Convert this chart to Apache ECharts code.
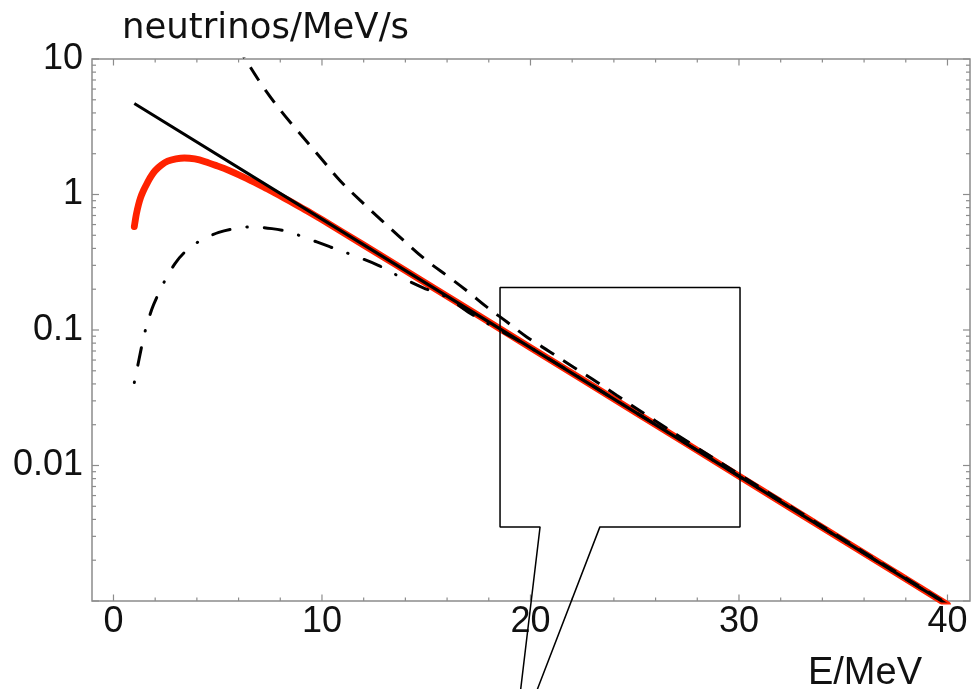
<!DOCTYPE html>
<html>
<head>
<meta charset="utf-8">
<script src="https://cdn.jsdelivr.net/npm/echarts@6/dist/echarts.min.js"></script>
<style>
html,body{margin:0;padding:0;background:#fff;}
#chart{width:973px;height:689px;}
</style>
</head>
<body>
<div id="chart"></div>
<script>
// ---- data ----
const xMin = -1.03, xMax = 41.08;
const yMin = 0.001, yMax = 10;

const xLabelValues = [0, 10, 20, 30, 40];
const xMajorTicks = [0, 10, 20, 30, 40];
const xMinorTicks = [2, 4, 6, 8, 12, 14, 16, 18, 22, 24, 26, 28, 32, 34, 36, 38];

const yLabelValues = [10, 1, 0.1, 0.01];
const yLabelTexts = ['10', '1', '0.1', '0.01'];
const yMajorTicks = [0.001, 0.01, 0.1, 1, 10];
const yMinorTicks = [0.002, 0.003, 0.004, 0.005, 0.006, 0.007, 0.008, 0.009,
                     0.02, 0.03, 0.04, 0.05, 0.06, 0.07, 0.08, 0.09,
                     0.2, 0.3, 0.4, 0.5, 0.6, 0.7, 0.8, 0.9,
                     2, 3, 4, 5, 6, 7, 8, 9];

// solid black: pure exponential
const solidE = [1, 10, 20, 30, 40];
const solidV = [4.70, 0.658, 0.0741, 0.00835, 0.00094];

// thick red curve
const redE = [1.0, 1.05, 1.1, 1.2, 1.3, 1.45, 1.6, 1.8, 2.0, 2.3, 2.6, 3.0, 3.4, 3.9, 4.4, 5.0, 5.5, 6.0, 6.6, 7.2, 7.7, 8.2, 8.7, 9.3, 10, 12, 15, 20, 25, 30, 35, 40];
const redV = [0.58, 0.65, 0.72, 0.84, 0.95, 1.08, 1.20, 1.36, 1.50, 1.65, 1.76, 1.83, 1.86, 1.83, 1.748, 1.62, 1.514, 1.399, 1.262, 1.135, 1.034, 0.94, 0.852, 0.755, 0.652, 0.424, 0.221, 0.0741, 0.0249, 0.00835, 0.0028, 0.00094];

// dashed curve
const dashE = [5.9, 6.32, 7.18, 8.07, 8.94, 9.9, 10.86, 11.82, 12.86, 13.9, 15.0, 16.1, 17.0, 17.9, 18.86, 19.82, 20.94, 22.05, 23.18, 24.13, 26, 28, 30, 33, 36, 40];
const dashV = [12.9, 10.0, 6.22, 4.07, 2.82, 1.89, 1.27, 0.908, 0.645, 0.46, 0.327, 0.245, 0.192, 0.148, 0.115, 0.0889, 0.0689, 0.0534, 0.0414, 0.033, 0.0213, 0.0135, 0.00862, 0.00444, 0.00229, 0.000952];

// dash-dot curve
const ddE = [1.0, 1.2, 1.5, 1.83, 2.15, 2.47, 2.95, 3.43, 4.15, 5.05, 5.83, 6.6, 7.6, 8.4, 9.1, 10.4, 11.5, 12.7, 13.74, 14.86, 15.98, 17.1, 18.5, 20, 25, 30, 35, 40];
const ddV = [0.041, 0.058, 0.0955, 0.141, 0.184, 0.232, 0.309, 0.377, 0.455, 0.525, 0.561, 0.577, 0.56, 0.53, 0.486, 0.41, 0.356, 0.30, 0.247, 0.205, 0.175, 0.133, 0.100, 0.0741, 0.0249, 0.00835, 0.0028, 0.00094];

// zoom box with callout (data coordinates)
const boxE = [19.53, 20.46, 18.54, 18.54, 30.05, 30.05, 23.33, 20.33];
const boxV = [0.000223, 0.003523, 0.003523, 0.206, 0.206, 0.003523, 0.003523, 0.000223];

// ---- chart ----
const zip = (a, b) => a.map((x, i) => [x, b[i]]);
const tickColor = '#8c8c8c';
const labelFont = 'Liberation Sans, Arial, Helvetica, sans-serif';

const chart = echarts.init(document.getElementById('chart'), null, {renderer: 'canvas'});

function xTickRender(params, api) {
  const e = api.value(0), len = api.value(2);
  const pb = api.coord([e, yMin]);
  const pt = api.coord([e, yMax]);
  return {
    type: 'group',
    children: [
      {type: 'line', shape: {x1: pb[0], y1: pb[1], x2: pb[0], y2: pb[1] - len}, style: {stroke: tickColor, lineWidth: 1.2}},
      {type: 'line', shape: {x1: pt[0], y1: pt[1], x2: pt[0], y2: pt[1] + len}, style: {stroke: tickColor, lineWidth: 1.2}}
    ]
  };
}
function yTickRender(params, api) {
  const v = api.value(1), len = api.value(2);
  const pl = api.coord([xMin, v]);
  const pr = api.coord([xMax, v]);
  return {
    type: 'group',
    children: [
      {type: 'line', shape: {x1: pl[0], y1: pl[1], x2: pl[0] + len, y2: pl[1]}, style: {stroke: tickColor, lineWidth: 1.2}},
      {type: 'line', shape: {x1: pr[0], y1: pr[1], x2: pr[0] - len, y2: pr[1]}, style: {stroke: tickColor, lineWidth: 1.2}}
    ]
  };
}

const option = {
  animation: false,
  backgroundColor: '#fff',
  title: [
    {text: 'neutrinos/MeV/s', left: 122, top: 11, padding: 0,
     textStyle: {fontFamily: 'DejaVu Sans', fontSize: 35.5, fontWeight: 'normal', color: '#111'}},
    {text: 'E/MeV', right: 51, top: 655, padding: 0,
     textStyle: {fontFamily: labelFont, fontSize: 38, fontWeight: 'normal', color: '#111'}}
  ],
  grid: {left: 92, right: 3, top: 59, bottom: 88, show: true, borderColor: tickColor, borderWidth: 1.5, backgroundColor: '#fff'},
  xAxis: {
    type: 'value', min: xMin, max: xMax,
    axisLine: {show: false}, axisTick: {show: false}, splitLine: {show: false},
    axisLabel: {customValues: xLabelValues, margin: 3, color: '#111', fontSize: 36, fontFamily: labelFont}
  },
  yAxis: {
    type: 'log', logBase: 10, min: yMin, max: yMax,
    axisLine: {show: false}, axisTick: {show: false}, splitLine: {show: false},
    axisLabel: {
      margin: 9, color: '#111', fontSize: 36, fontFamily: labelFont,
      formatter: function (v) {
        const i = yLabelValues.findIndex(t => Math.abs(Math.log10(t) - Math.log10(v)) < 1e-6);
        return i >= 0 ? yLabelTexts[i] : '';
      }
    }
  },
  series: [
    {type: 'custom', name: 'xMajor', renderItem: xTickRender, data: xMajorTicks.map(e => [e, yMin, 6.5]), z: 1, silent: true},
    {type: 'custom', name: 'xMinor', renderItem: xTickRender, data: xMinorTicks.map(e => [e, yMin, 3.5]), z: 1, silent: true},
    {type: 'custom', name: 'yMajor', renderItem: yTickRender, data: yMajorTicks.map(v => [xMin, v, 7]), z: 1, silent: true},
    {type: 'custom', name: 'yMinor', renderItem: yTickRender, data: yMinorTicks.map(v => [xMin, v, 4]), z: 1, silent: true},
    {type: 'line', name: 'red', data: zip(redE, redV), showSymbol: false, symbol: 'none', smooth: 0.3, z: 2,
     lineStyle: {color: '#ff2200', width: 6.8, cap: 'round', join: 'round'}},
    {type: 'line', name: 'dashdot', data: zip(ddE, ddV), showSymbol: false, symbol: 'none', smooth: 0.35, z: 3,
     lineStyle: {color: '#000', width: 3, type: [18, 17, 0.5, 17], dashOffset: 35, cap: 'round'}},
    {type: 'line', name: 'solid', data: zip(solidE, solidV), showSymbol: false, symbol: 'none', z: 4,
     lineStyle: {color: '#000', width: 3}},
    {type: 'line', name: 'dashed', data: zip(dashE, dashV), showSymbol: false, symbol: 'none', smooth: 0.35, z: 5,
     lineStyle: {color: '#000', width: 3, type: [16, 11]}},
    {type: 'line', name: 'box', data: zip(boxE, boxV), showSymbol: false, symbol: 'none', clip: false, z: 6,
     lineStyle: {color: '#000', width: 1.5}}
  ]
};
chart.setOption(option);
</script>
</body>
</html>
